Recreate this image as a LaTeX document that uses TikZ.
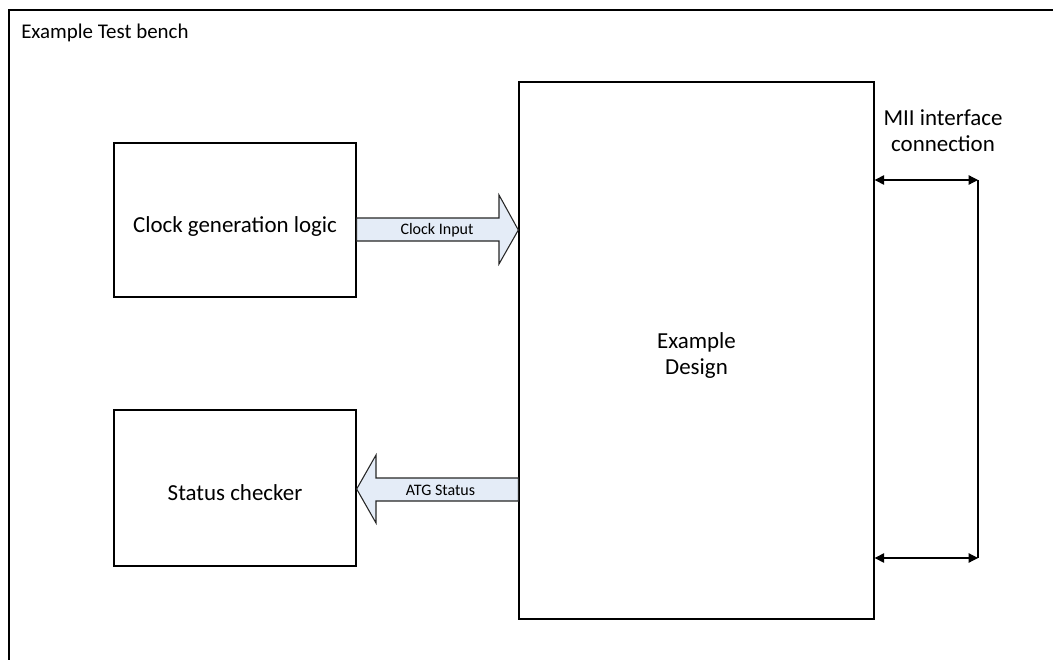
\documentclass[tikz,border=0pt]{standalone}
\usepackage{fontspec}
\setmainfont{Carlito}
\usetikzlibrary{arrows.meta}
\definecolor{arrfill}{HTML}{E4ECF7}
\begin{document}
\begin{tikzpicture}[x=0.75pt,y=-0.75pt,
  blk/.style={draw=black,line width=1pt,fill=white},
  fat/.style={draw=black!85,line width=0.8pt,fill=arrfill,line join=miter},
  conn/.style={draw=black,line width=0.9pt,{Triangle[length=7pt,width=7pt]}-{Triangle[length=7pt,width=7pt]}},
  lbl/.style={font=\fontsize{17.2pt}{19.5pt}\selectfont,align=center},
  small/.style={font=\fontsize{12pt}{14pt}\selectfont}]
\useasboundingbox (0,0) rectangle (1053,660);
\draw[line width=1.1pt] (9,670) -- (9,10) -- (1070,10);
\node[anchor=west,inner sep=0pt,font=\fontsize{15.7pt}{18pt}\selectfont] (tb) at (21,33) {Example Test bench};
% boxes
\node[blk,minimum width=181.5pt,minimum height=115.5pt,inner sep=0pt] (clk) at (235,220) {};
\node[lbl] (clkt) at (235,227) {Clock generation logic};
\node[blk,minimum width=181.5pt,minimum height=117pt,inner sep=0pt] (stat) at (235,488) {};
\node[lbl] (statt) at (235,493) {Status checker};
\node[blk,minimum width=266.25pt,minimum height=402.75pt,inner sep=0pt] (des) at (696.5,350.5) {};
\node[lbl] (dest) at (696.5,356) {Example\\Design};
% fat arrows
\draw[fat] (clk.east |- 0,218) -- (499,218) -- (499,195) -- (des.west |- 0,230) -- (499,264) -- (499,241) -- (clk.east |- 0,241) -- cycle;
\node[small] (ci) at (437,230) {Clock Input};
\draw[fat] (des.west |- 0,478) -- (376,478) -- (376,455) -- (stat.east |- 0,489) -- (376,523) -- (376,501) -- (des.west |- 0,501) -- cycle;
\node[small] (atg) at (440.5,490) {ATG Status};
% MII
\node[lbl,align=center] (mii) at (943,131) {MII interface\\connection};
\coordinate (r1) at (978,180);
\coordinate (r2) at (978,558);
\draw[line width=0.9pt] (r1) -- (r2);
\draw[conn] (des.east |- r1) -- (r1);
\draw[conn] (des.east |- r2) -- (r2);
\end{tikzpicture}
\end{document}
